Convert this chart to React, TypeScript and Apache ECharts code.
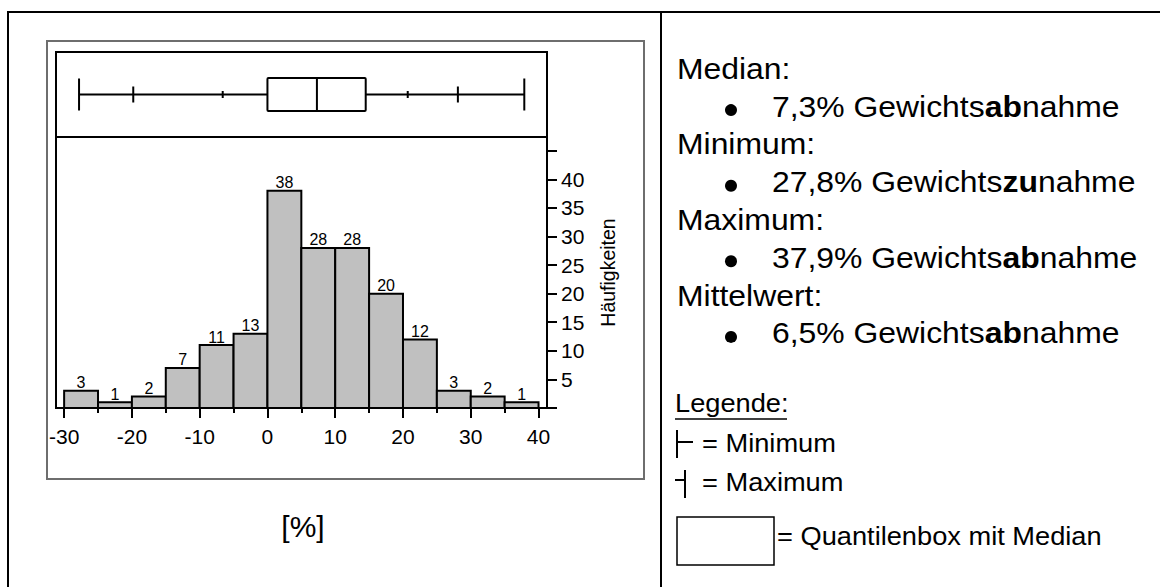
import React, { useEffect, useRef } from "react";
import * as echarts from "echarts";

const FONT = "'Liberation Sans', Arial, Helvetica, sans-serif";

// Histogram data (bin edges in %, counts)
const binEdges = [-30, -25, -20, -15, -10, -5, 0, 5, 10, 15, 20, 25, 30, 35, 40];
const counts = [3, 1, 2, 7, 11, 13, 38, 28, 28, 20, 12, 3, 2, 1];

// Axis ticks / labels
const xTicks = [-30, -20, -10, 0, 10, 20, 30, 40];
const xMinorTicks = [-25, -15, -5, 5, 15, 25, 35];
const yTicks = [0, 5, 10, 15, 20, 25, 30, 35, 40, 45];
const yLabels = [5, 10, 15, 20, 25, 30, 35, 40];

// Quantile box plot: min, 2.5%, 10%, 25%, median, 75%, 90%, 97.5%, max
const boxQuantiles = [-27.8, -19.8, -6.6, 0.0, 7.3, 14.5, 20.7, 28.1, 37.9];

// Right-hand text
const statHeaders = ["Median:", "Minimum:", "Maximum:", "Mittelwert:"];
const statValues = [
  ["7,3% Gewichts", "ab", "nahme"],
  ["27,8% Gewichts", "zu", "nahme"],
  ["37,9% Gewichts", "ab", "nahme"],
  ["6,5% Gewichts", "ab", "nahme"],
];
const legendTitle = "Legende:";
const legendMin = "= Minimum";
const legendMax = "= Maximum";
const legendBox = "= Quantilenbox mit Median";
const xUnit = "[%]";
const yName = "Häufigkeiten";

const X_MIN = -31.2;
const X_MAX = 41.25;
const Y_MAX = 47.4;

function buildOption() {
  const histData = counts.map((c, i) => [binEdges[i], binEdges[i + 1], c]);

  const graphics: any[] = [];
  // table lines
  graphics.push({ type: "line", shape: { x1: 7, y1: 12, x2: 1160, y2: 12 }, style: { stroke: "#000", lineWidth: 2 } });
  graphics.push({ type: "line", shape: { x1: 8, y1: 11, x2: 8, y2: 587 }, style: { stroke: "#000", lineWidth: 2 } });
  graphics.push({ type: "line", shape: { x1: 661, y1: 11, x2: 661, y2: 587 }, style: { stroke: "#000", lineWidth: 2 } });
  // gray frame around the chart
  graphics.push({ type: "rect", shape: { x: 47, y: 41, width: 597, height: 438 }, style: { fill: "none", stroke: "#6e6e6e", lineWidth: 2 } });
  // unit label
  graphics.push({
    type: "text", x: 303, y: 537 - 10.4,
    style: { text: xUnit, fontSize: 30, fontFamily: FONT, fill: "#000", align: "center", verticalAlign: "middle" },
  });

  // stats block
  const fs = 29;
  const sx = 1.1;
  const base0 = 78.3;
  const step = 37.8;
  statHeaders.forEach((h, i) => {
    const bh = base0 + step * (2 * i);
    graphics.push({
      type: "text", x: 677, y: bh - 0.3465 * fs, scaleX: sx,
      style: { text: h, fontSize: fs, fontFamily: FONT, fill: "#000", align: "left", verticalAlign: "middle" },
    });
    const bv = base0 + step * (2 * i + 1);
    graphics.push({ type: "circle", shape: { cx: 731, cy: bv - 6, r: 6 }, style: { fill: "#000" } });
    const [a, b, c] = statValues[i];
    graphics.push({
      type: "text", x: 772, y: bv - 0.3465 * fs, scaleX: sx,
      style: {
        text: `{n|${a}}{b|${b}}{n|${c}}`,
        fontSize: fs, fontFamily: FONT, fill: "#000", align: "left", verticalAlign: "middle",
        rich: {
          n: { fontSize: fs, fontFamily: FONT, fill: "#000" },
          b: { fontSize: fs, fontFamily: FONT, fill: "#000", fontWeight: "bold" },
        },
      },
    });
  });

  // legend
  const lf = 25;
  const lsx = 1.09;
  const lt = (text: string, x: number, baseline: number) => ({
    type: "text", x, y: baseline - 0.3465 * lf, scaleX: lsx,
    style: { text, fontSize: lf, fontFamily: FONT, fill: "#000", align: "left", verticalAlign: "middle" },
  });
  graphics.push(lt(legendTitle, 675, 411.7));
  graphics.push({ type: "line", shape: { x1: 675, y1: 419, x2: 787, y2: 419 }, style: { stroke: "#000", lineWidth: 1.5 } });
  graphics.push({ type: "line", shape: { x1: 677, y1: 430, x2: 677, y2: 458 }, style: { stroke: "#000", lineWidth: 2 } });
  graphics.push({ type: "line", shape: { x1: 677, y1: 442, x2: 693, y2: 442 }, style: { stroke: "#000", lineWidth: 2 } });
  graphics.push(lt(legendMin, 702, 451.7));
  graphics.push({ type: "line", shape: { x1: 675, y1: 480, x2: 685, y2: 480 }, style: { stroke: "#000", lineWidth: 2 } });
  graphics.push({ type: "line", shape: { x1: 685, y1: 470, x2: 685, y2: 498 }, style: { stroke: "#000", lineWidth: 2 } });
  graphics.push(lt(legendMax, 702, 491));
  graphics.push({ type: "rect", shape: { x: 677, y: 517, width: 97, height: 48 }, style: { fill: "none", stroke: "#000", lineWidth: 1.5 } });
  graphics.push(lt(legendBox, 777, 545));

  return {
    animation: false,
    backgroundColor: "#fff",
    textStyle: { fontFamily: FONT },
    grid: [
      { left: 56, top: 52, width: 491, height: 85, show: true, borderColor: "#000", borderWidth: 2, backgroundColor: "transparent", containLabel: false, outerBoundsMode: "none" },
      { left: 56, top: 137, width: 491, height: 271, show: true, borderColor: "#000", borderWidth: 2, backgroundColor: "transparent", containLabel: false, outerBoundsMode: "none" },
    ],
    xAxis: [
      { type: "value", gridIndex: 0, min: X_MIN, max: X_MAX, show: false },
      {
        type: "value", gridIndex: 1, min: X_MIN, max: X_MAX, position: "bottom",
        axisLine: { show: true, onZero: false, lineStyle: { color: "#000", width: 2 } },
        axisTick: { show: true, customValues: xTicks, length: 10, lineStyle: { color: "#000", width: 2 } },
        axisLabel: { show: true, customValues: xTicks, margin: 18, fontSize: 21, color: "#000", fontFamily: FONT },
        splitLine: { show: false },
      },
      {
        type: "value", gridIndex: 1, min: X_MIN, max: X_MAX, position: "bottom",
        axisLine: { show: false, onZero: false },
        axisTick: { show: true, customValues: xMinorTicks, length: 5, lineStyle: { color: "#000", width: 2 } },
        axisLabel: { show: false },
        splitLine: { show: false },
      },
    ],
    yAxis: [
      { type: "value", gridIndex: 0, min: 0, max: 1, show: false },
      {
        type: "value", gridIndex: 1, min: 0, max: Y_MAX, position: "right",
        axisLine: { show: true, onZero: false, lineStyle: { color: "#000", width: 2 } },
        axisTick: { show: true, customValues: yTicks, length: 10, lineStyle: { color: "#000", width: 2 } },
        axisLabel: { show: true, customValues: yLabels, margin: 14, fontSize: 21, color: "#000", fontFamily: FONT },
        splitLine: { show: false },
        name: yName, nameLocation: "middle", nameRotate: 90, nameGap: 51,
        nameTextStyle: { fontSize: 19.5, color: "#000", fontFamily: FONT },
      },
    ],
    series: [
      {
        type: "custom",
        xAxisIndex: 1,
        yAxisIndex: 1,
        data: histData,
        clip: false,
        renderItem: (params: any, api: any) => {
          const x0 = api.value(0);
          const x1 = api.value(1);
          const c = api.value(2);
          const p0 = api.coord([x0, 0]);
          const p1 = api.coord([x1, c]);
          return {
            type: "group",
            children: [
              {
                type: "rect",
                shape: { x: p0[0], y: p1[1], width: p1[0] - p0[0], height: p0[1] - p1[1] },
                style: { fill: "#c0c0c0", stroke: "#000", lineWidth: 2 },
              },
              {
                type: "text",
                x: (p0[0] + p1[0]) / 2,
                y: p1[1],
                style: { text: String(c), fontSize: 16, fontFamily: FONT, fill: "#000", align: "center", verticalAlign: "bottom" },
              },
            ],
          };
        },
      },
      {
        type: "custom",
        xAxisIndex: 0,
        yAxisIndex: 0,
        data: [boxQuantiles],
        clip: false,
        renderItem: (params: any, api: any) => {
          const v = (i: number) => api.coord([api.value(i), 0.5]);
          const pMin = v(0), p025 = v(1), p10 = v(2), p25 = v(3), pMed = v(4), p75 = v(5), p90 = v(6), p975 = v(7), pMax = v(8);
          const cy = pMin[1];
          const st = { stroke: "#000", lineWidth: 2 };
          const vline = (x: number, h: number) => ({ type: "line", shape: { x1: x, y1: cy - h, x2: x, y2: cy + h }, style: st });
          return {
            type: "group",
            children: [
              { type: "line", shape: { x1: pMin[0], y1: cy, x2: p25[0], y2: cy }, style: st },
              { type: "line", shape: { x1: p75[0], y1: cy, x2: pMax[0], y2: cy }, style: st },
              vline(pMin[0], 16),
              vline(pMax[0], 16),
              vline(p025[0], 8),
              vline(p975[0], 8),
              vline(p10[0], 3.5),
              vline(p90[0], 3.5),
              { type: "rect", shape: { x: p25[0], y: cy - 16.5, width: p75[0] - p25[0], height: 33, r: 1 }, style: { fill: "#fff", stroke: "#000", lineWidth: 2 } },
              vline(pMed[0], 16.5),
            ],
          };
        },
      },
    ],
    graphic: { elements: graphics },
  };
}

export default function App() {
  const ref = useRef<HTMLDivElement>(null);
  useEffect(() => {
    if (!ref.current) return;
    const chart = echarts.init(ref.current, null, { renderer: "svg" });
    chart.setOption(buildOption() as any);
    return () => {
      chart.dispose();
    };
  }, []);
  return (
    <div
      ref={ref}
      style={{ position: "fixed", left: 0, top: 0, width: 1160, height: 587, background: "#fff" }}
    />
  );
}
